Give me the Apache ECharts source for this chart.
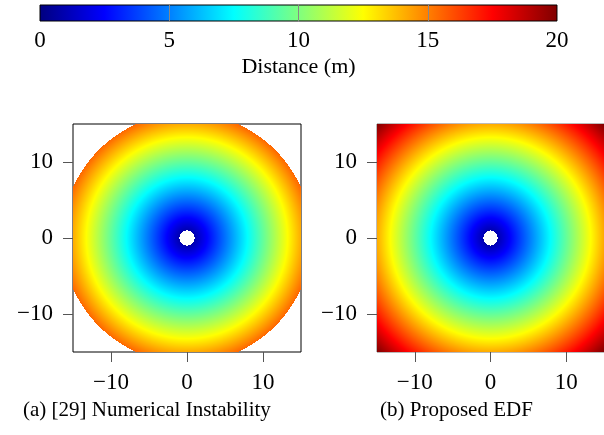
<!DOCTYPE html>
<html>
<head>
<meta charset="utf-8">
<script src="https://cdn.jsdelivr.net/npm/echarts@6/dist/echarts.min.js"></script>
<style>
html, body { margin: 0; padding: 0; background: #fff; }
#main { width: 604px; height: 435px; }
</style>
</head>
<body>
<div id="main"></div>
<script>
// colour bar
var colorbarRange = [0, 20];
var colorbarTicks = [5, 10, 15, 20];
var colorbarName = 'Distance (m)';
// jet colour map
var jetColors = ['#00007f', '#0000ff', '#007fff', '#00ffff', '#7fff7f', '#ffff00', '#ff7f00', '#ff0000', '#7f0000'];
// the panels map colour over the field's own range (0 .. corner distance)
var fieldColorRange = [0, 21.2];

// panels
var panelRange = [-15, 15];
var panelTicks = [-10, 0, 10];
var cellsPerSide = 228;
var holeRadius = 1.0;      // empty disc at the origin
var unstableRadius = 16.4; // left panel is cut off beyond this distance
var captions = ['(a) [29] Numerical Instability', '(b) Proposed EDF'];

var serif = 'Liberation Serif';
var cellStep = (panelRange[1] - panelRange[0]) / cellsPerSide;

// distance field samples, one per cell centre
function buildField(maxDist) {
    var out = [];
    for (var i = 0; i < cellsPerSide; i++) {
        var x = panelRange[0] + (i + 0.5) * cellStep;
        for (var j = 0; j < cellsPerSide; j++) {
            var y = panelRange[0] + (j + 0.5) * cellStep;
            var d = Math.sqrt(x * x + y * y);
            if (d > holeRadius && d < maxDist) {
                out.push([x, y, d]);
            }
        }
    }
    return out;
}
var leftData = buildField(unstableRadius);
var rightData = buildField(Infinity);

function renderCell(params, api) {
    var p0 = api.coord([api.value(0) - cellStep / 2, api.value(1) + cellStep / 2]);
    var p1 = api.coord([api.value(0) + cellStep / 2, api.value(1) - cellStep / 2]);
    var x0 = Math.round(p0[0]), y0 = Math.round(p0[1]);
    var x1 = Math.round(p1[0]), y1 = Math.round(p1[1]);
    return {
        type: 'rect',
        shape: { x: x0, y: y0, width: Math.max(1, x1 - x0), height: Math.max(1, y1 - y0) },
        style: { fill: api.visual('color') }
    };
}

function renderBar(params, api) {
    var p0 = api.coord([api.value(0), 1]);
    var p1 = api.coord([api.value(1), 0]);
    var stops = jetColors.map(function (c, i) {
        return { offset: i / (jetColors.length - 1), color: c };
    });
    return {
        type: 'rect',
        shape: { x: p0[0], y: p0[1], width: p1[0] - p0[0], height: p1[1] - p0[1] },
        style: {
            fill: new echarts.graphic.LinearGradient(0, 0, 1, 0, stops),
            stroke: '#000',
            lineWidth: 1
        }
    };
}

function minus(v) {
    return String(v).replace('-', '\u2212');
}

function panelAxis(gridIndex, margin) {
    return {
        type: 'value', gridIndex: gridIndex,
        min: panelRange[0], max: panelRange[1],
        axisLine: { show: false, onZero: false },
        splitLine: { show: false },
        axisTick: { show: true, customValues: panelTicks, length: 10, lineStyle: { color: '#555', width: 1 } },
        axisLabel: {
            customValues: panelTicks, formatter: minus, margin: margin,
            fontFamily: serif, fontSize: 23, color: '#000'
        }
    };
}

var captionStyle = { fontFamily: serif, fontSize: 21, fontWeight: 'normal', color: '#000' };

var chart = echarts.init(document.getElementById('main'), null, { renderer: 'canvas' });
chart.setOption({
    animation: false,
    title: [
        { text: captions[0], left: 18, top: 395, textStyle: captionStyle },
        { text: captions[1], left: 375, top: 395, textStyle: captionStyle }
    ],
    grid: [
        { left: 40, top: 5, width: 517, height: 16 },
        { left: 73, top: 124, width: 228, height: 228, show: true, borderColor: '#000', borderWidth: 1, backgroundColor: 'transparent' },
        { left: 377, top: 124, width: 228, height: 228, show: true, borderColor: '#777', borderWidth: 1, backgroundColor: 'transparent' }
    ],
    xAxis: [
        {
            type: 'value', gridIndex: 0, min: colorbarRange[0], max: colorbarRange[1], interval: 5, z: 5,
            axisLine: { show: false, onZero: false },
            splitLine: { show: false },
            axisTick: { show: true, inside: true, length: 16, customValues: colorbarTicks, lineStyle: { color: '#888', width: 1 } },
            axisLabel: { margin: 8, fontFamily: serif, fontSize: 23, color: '#000' },
            name: colorbarName, nameLocation: 'middle', nameGap: 35,
            nameTextStyle: { fontFamily: serif, fontSize: 22, color: '#000' }
        },
        panelAxis(1, 19),
        panelAxis(2, 19)
    ],
    yAxis: [
        { type: 'value', gridIndex: 0, min: 0, max: 1, show: false },
        panelAxis(1, 20),
        panelAxis(2, 20)
    ],
    visualMap: {
        show: false, type: 'continuous', dimension: 2, seriesIndex: [1, 2],
        min: fieldColorRange[0], max: fieldColorRange[1],
        inRange: { color: jetColors }
    },
    series: [
        { type: 'custom', xAxisIndex: 0, yAxisIndex: 0, renderItem: renderBar, data: [[colorbarRange[0], colorbarRange[1]]], silent: true },
        { type: 'custom', xAxisIndex: 1, yAxisIndex: 1, renderItem: renderCell, data: leftData, silent: true, progressive: 0 },
        { type: 'custom', xAxisIndex: 2, yAxisIndex: 2, renderItem: renderCell, data: rightData, silent: true, progressive: 0 }
    ]
});
</script>
</body>
</html>
